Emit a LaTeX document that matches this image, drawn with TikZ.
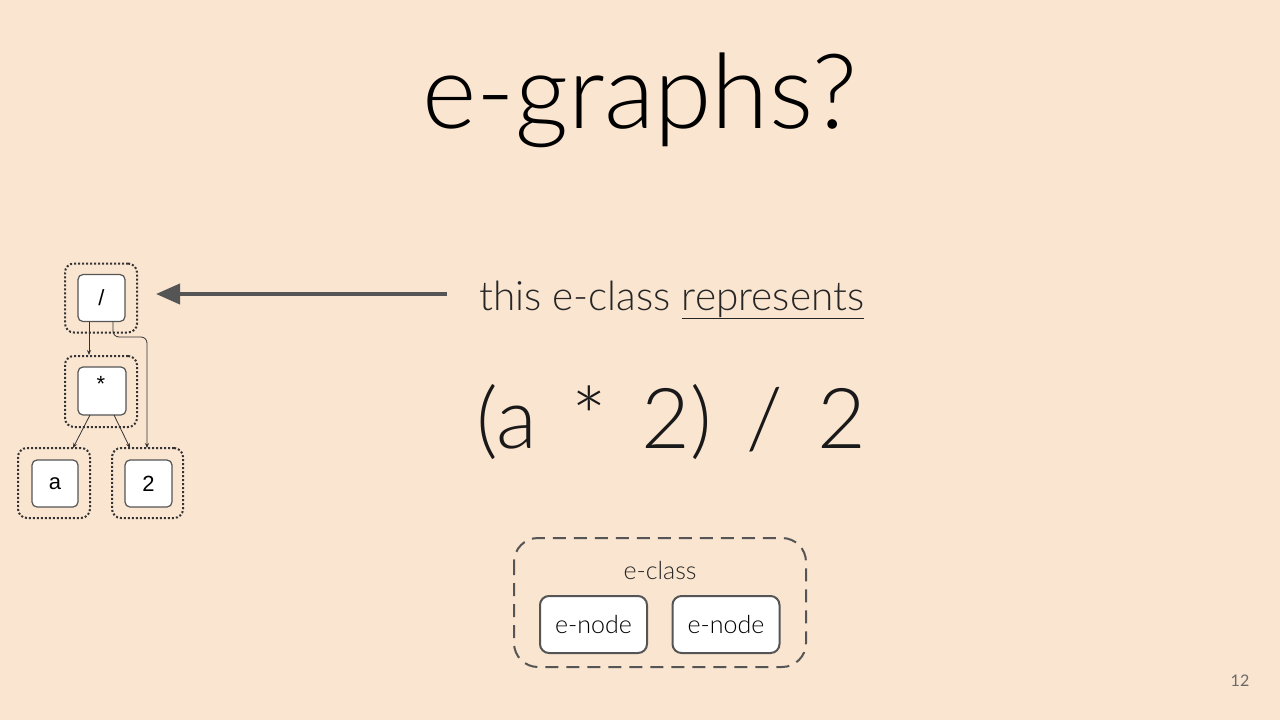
\documentclass[tikz,border=0pt]{standalone}
\usepackage{fontspec}
\setmainfont{Lato Light}[BoldFont=Lato]
\setsansfont{Liberation Sans}
\usetikzlibrary{arrows.meta}
\definecolor{bg}{HTML}{FAE5D0}
\definecolor{boxgray}{HTML}{555555}
\definecolor{pgnum}{HTML}{6A6A6A}
\tikzset{
  tnode/.style={draw=boxgray, line width=1.2pt, fill=white, rounded corners=5pt, inner sep=0pt, font=\sffamily\fontsize{22}{22}\selectfont},
  tclass/.style={draw=black!80, line width=2pt, dotted, rounded corners=9pt, inner sep=0pt},
  tedge/.style={draw=black!80, line width=0.8pt, -{Stealth[length=5pt,width=4pt]}},
  enode/.style={draw=boxgray, line width=2pt, fill=white, rounded corners=9pt, inner sep=0pt, minimum width=107pt, minimum height=57pt, font=\fontsize{25}{25}\selectfont},
}
\newcommand{\wsp}{\hspace{0.41em}}
\begin{document}
\begin{tikzpicture}[x=1pt,y=-1pt]
\fill[bg] (0,0) rectangle (1280,720);
\useasboundingbox (0,0) rectangle (1280,720);
% title
\node (title) at (640,100) {\fontsize{104}{104}\selectfont e-graphs?};
% left graph
\node[tclass, minimum width=72pt, minimum height=69pt] (cdiv) at (101,298) {};
\node[tnode, minimum width=47pt, minimum height=47pt] (ndiv) at (101.5,298) {/};
\node[tclass, minimum width=72pt, minimum height=71pt] (cmul) at (101,391.5) {};
\node[tnode, minimum width=48pt, minimum height=48pt] (nmul) at (102,391) {};
\node[font=\sffamily\fontsize{22}{22}\selectfont] (smul) at (101,384) {*};
\node[tclass, minimum width=72pt, minimum height=70pt] (ca) at (54,483) {};
\node[tnode, minimum width=46pt, minimum height=47pt] (na) at (55,483.5) {a};
\node[tclass, minimum width=71pt, minimum height=70pt] (c2) at (147.5,483) {};
\node[tnode, minimum width=47pt, minimum height=47pt] (n2) at (148.5,483.5) {2};
\coordinate (d1) at (89,321.5);
\coordinate (d2) at (113,321.5);
\draw[tedge] (d1) -- (d1 |- cmul.north);
\draw[tedge, rounded corners=6pt] (d2) -- (113,337) -- (147,337) -- (147,448);
\coordinate (m1) at (90,415);
\coordinate (m2) at (114,415);
\draw[tedge] (m1) -- (73,448);
\draw[tedge] (m2) -- (130,448);
% arrow
\coordinate (astart) at (447,294);
\coordinate (aend) at (156,294);
\draw[boxgray, line width=4pt, -{Triangle[length=24pt,width=20pt]}] (astart) -- (aend);
% text
\node[anchor=base west, text=black!85, inner sep=0pt] (rep) at (479,310) {\fontsize{40.5}{40.5}\selectfont this e-class \underline{represents}};
\node[text=black!90] (expr) at (671,422) {\fontsize{84}{84}\selectfont (a\wsp*\wsp2)\wsp/\wsp2};
% e-class legend
\draw[boxgray, line width=2pt, dash pattern=on 13pt off 8pt, rounded corners=24pt] (514,538) rectangle (806,667);
\node[text=black!85] (ecl) at (660,570) {\fontsize{25}{25}\selectfont e-class};
\node[enode] (en1) at (593.5,624.5) {e-node};
\node[enode] (en2) at (726,624.5) {e-node};
\node[text=pgnum] (pg) at (1240,681) {\fontsize{16}{16}\selectfont\bfseries 12};
\end{tikzpicture}
\end{document}
